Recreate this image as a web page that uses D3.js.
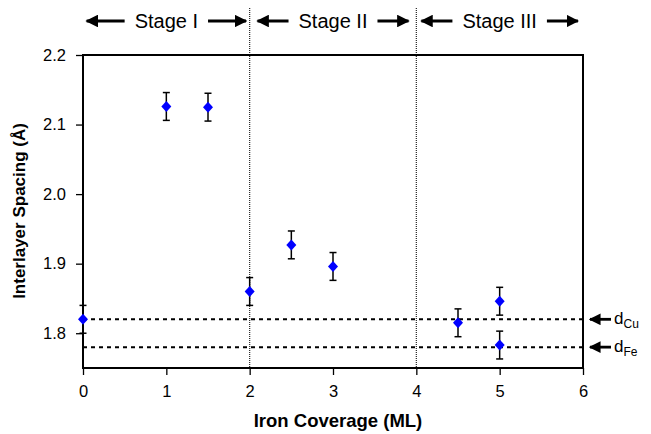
<!DOCTYPE html>
<meta charset="utf-8">
<script src="https://cdn.jsdelivr.net/npm/d3@7"></script>
<style>
  body { margin: 0; background: #fff; }
  text { font-family: "Liberation Sans", Arial, sans-serif; fill: #000; }
</style>
<body>
<div id="chart"></div>
<script>
// data
var coverage = [0, 1, 1.5, 2, 2.5, 3, 4.5, 5, 5]
var spacing  = [1.82, 2.126, 2.125, 1.86, 1.927, 1.896, 1.815, 1.846, 1.783]
var errors   = [0.02, 0.02, 0.02, 0.02, 0.02, 0.02, 0.02, 0.02, 0.02]
var xTicks = [0, 1, 2, 3, 4, 5, 6]
var yTicks = [1.8, 1.9, 2.0, 2.1, 2.2]
var refValues = [1.82, 1.78]
var refSubs = ["Cu", "Fe"]
var stageNames = ["Stage I", "Stage II", "Stage III"]
var stageBounds = [0, 2, 4, 6]

var W = 651, H = 434
var margin = {top: 55, right: 68, bottom: 66, left: 83}

var svg = d3.select("#chart").append("svg")
  .attr("width", W).attr("height", H)

var x = d3.scaleLinear().domain([0, 6]).range([margin.left, W - margin.right])
var y = d3.scaleLinear().domain([1.75, 2.2]).range([H - margin.bottom, margin.top])

// arrow head marker
var defs = svg.append("defs")
defs.append("marker")
  .attr("id", "head")
  .attr("viewBox", "0 0 10 10")
  .attr("refX", 9).attr("refY", 5)
  .attr("markerWidth", 4.2).attr("markerHeight", 4.2)
  .attr("markerUnits", "strokeWidth")
  .attr("orient", "auto")
  .append("path").attr("d", "M0,0 L10,5 L0,10 Z").attr("fill", "#000")

// stage dividers
svg.selectAll(".divider")
  .data(stageBounds.slice(1, 3))
  .enter().append("line")
  .attr("x1", d => x(d)).attr("x2", d => x(d))
  .attr("y1", 8).attr("y2", y(1.75))
  .attr("stroke", "#222").attr("stroke-width", 1.2)
  .attr("stroke-dasharray", "1,1")

// reference lines
svg.selectAll(".ref")
  .data(refValues)
  .enter().append("line")
  .attr("x1", x(0)).attr("x2", x(6))
  .attr("y1", d => y(d)).attr("y2", d => y(d))
  .attr("stroke", "#000").attr("stroke-width", 2)
  .attr("stroke-dasharray", "4,4")

// axes
var xAxis = svg.append("g")
  .attr("transform", "translate(0," + y(1.75) + ")")
  .call(d3.axisBottom(x).tickValues(xTicks).tickFormat(d3.format("d")).tickSize(7).tickPadding(10))
var yAxis = svg.append("g")
  .attr("transform", "translate(" + x(0) + ",0)")
  .call(d3.axisLeft(y).tickValues(yTicks).tickFormat(d3.format(".1f")).tickSize(7).tickPadding(10))
;[xAxis, yAxis].forEach(function(a) {
  a.select(".domain").remove()
  a.selectAll(".tick line").attr("stroke", "#000").attr("stroke-width", 1.3)
  a.selectAll(".tick text").style("font-size", "16.5px").style("font-family", "Liberation Sans, Arial, sans-serif")
})

// frame
svg.append("rect")
  .attr("x", x(0)).attr("y", y(2.2))
  .attr("width", x(6) - x(0)).attr("height", y(1.75) - y(2.2))
  .attr("fill", "none").attr("stroke", "#000").attr("stroke-width", 2)

// error bars
var pts = coverage.map(function(c, i) { return {c: c, s: spacing[i], e: errors[i]} })
var eb = svg.selectAll(".err").data(pts).enter().append("g")
eb.append("line")
  .attr("x1", d => x(d.c)).attr("x2", d => x(d.c))
  .attr("y1", d => y(d.s - d.e)).attr("y2", d => y(d.s + d.e))
  .attr("stroke", "#000").attr("stroke-width", 1.5)
eb.selectAll(".cap")
  .data(d => [[d.c, d.s - d.e], [d.c, d.s + d.e]])
  .enter().append("line")
  .attr("x1", d => x(d[0]) - 3.5).attr("x2", d => x(d[0]) + 3.5)
  .attr("y1", d => y(d[1])).attr("y2", d => y(d[1]))
  .attr("stroke", "#000").attr("stroke-width", 1.5)

// diamonds
svg.selectAll(".pt").data(pts).enter().append("path")
  .attr("transform", d => "translate(" + x(d.c) + "," + y(d.s) + ")")
  .attr("d", "M0,-5.5 L5,0 L0,5.5 L-5,0 Z")
  .attr("fill", "#0000ff")

// stage labels with arrows
var stageY = 21
stageNames.forEach(function(name, i) {
  var cx = (x(stageBounds[i]) + x(stageBounds[i + 1])) / 2
  var t = svg.append("text")
    .attr("x", cx).attr("y", stageY + 7)
    .attr("text-anchor", "middle")
    .style("font-size", "20px")
    .text(name)
  var half = t.node().getComputedTextLength() / 2
  var len = i == 0 ? 38 : 31
  svg.append("line")
    .attr("x1", cx - half - 10).attr("x2", cx - half - 10 - len)
    .attr("y1", stageY).attr("y2", stageY)
    .attr("stroke", "#000").attr("stroke-width", 3)
    .attr("marker-end", "url(#head)")
  svg.append("line")
    .attr("x1", cx + half + 10).attr("x2", cx + half + 10 + len)
    .attr("y1", stageY).attr("y2", stageY)
    .attr("stroke", "#000").attr("stroke-width", 3)
    .attr("marker-end", "url(#head)")
})

// d_Cu / d_Fe labels
refValues.forEach(function(v, i) {
  svg.append("line")
    .attr("x1", x(6) + 28).attr("x2", x(6) + 7)
    .attr("y1", y(v)).attr("y2", y(v))
    .attr("stroke", "#000").attr("stroke-width", 2.8)
    .attr("marker-end", "url(#head)")
  var t = svg.append("text")
    .attr("x", x(6) + 31).attr("y", y(v) + 5)
    .style("font-size", "17px")
    .text("d")
  t.append("tspan").attr("dy", 4).style("font-size", "12px").text(refSubs[i])
})

// axis titles
svg.append("text")
  .attr("x", 338).attr("y", 427)
  .attr("text-anchor", "middle")
  .style("font-size", "18.5px").style("font-weight", "bold")
  .text("Iron Coverage (ML)")
svg.append("text")
  .attr("transform", "translate(25," + 211 + ") rotate(-90)")
  .attr("text-anchor", "middle")
  .style("font-size", "17px").style("font-weight", "bold")
  .text("Interlayer Spacing (Å)")
</script>
</body>
